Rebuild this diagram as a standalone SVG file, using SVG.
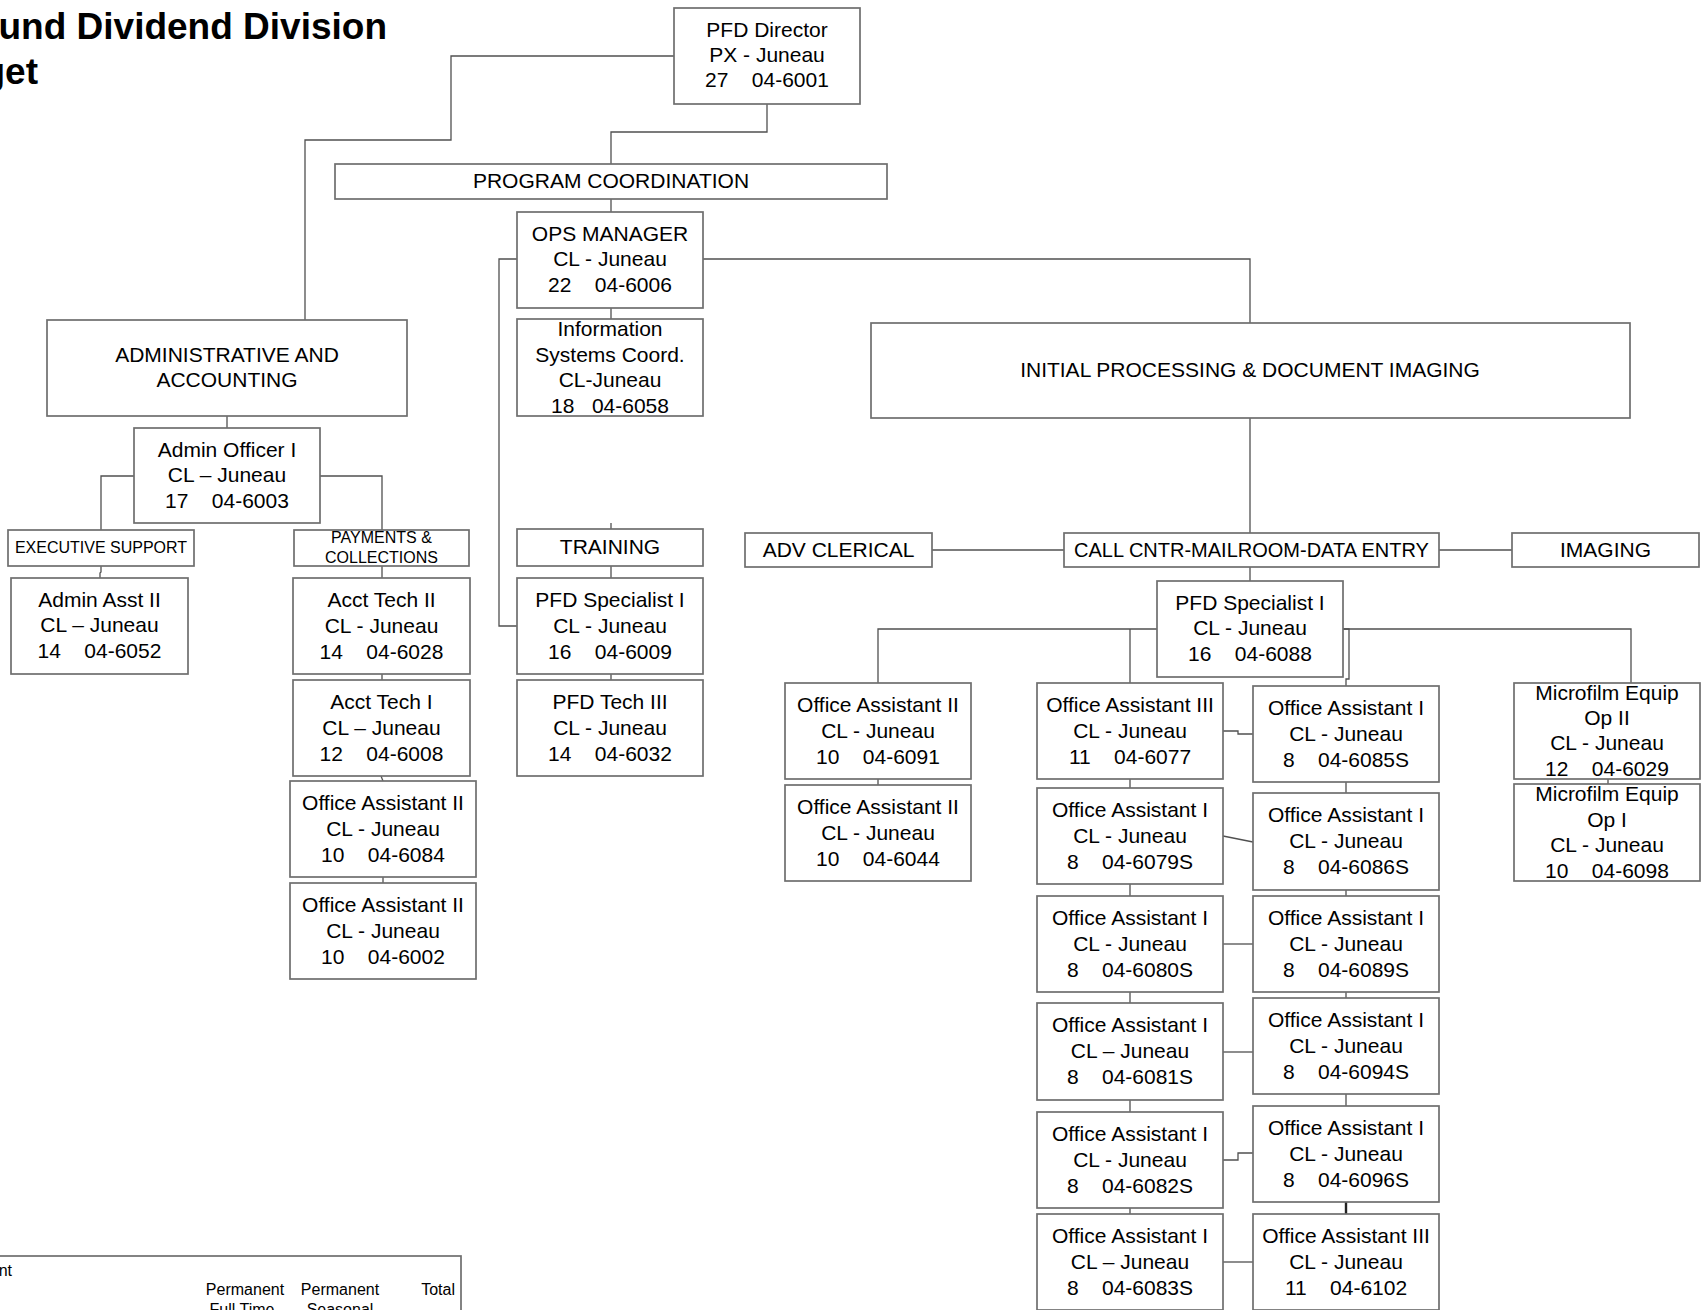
<svg xmlns="http://www.w3.org/2000/svg" width="1704" height="1310" viewBox="0 0 1704 1310">
<style>
.box{fill:#fff;stroke:#6e6e6e;stroke-width:1.7}
.t{font-family:"Liberation Sans",Arial,sans-serif;font-size:21px;text-anchor:middle;fill:#000;white-space:pre}
.s{font-size:16px}
.title{font-family:"Liberation Sans",Arial,sans-serif;font-size:37px;font-weight:bold;text-anchor:end;fill:#000}
.c{fill:none;stroke:#505050;stroke-width:1.3}
</style>
<rect width="1704" height="1310" fill="#fff"/>
<text class="title" x="387" y="39">und Dividend Division</text>
<text class="title" x="38" y="84">get</text>

<g id="connectors">
<path class="c" d="M674,56 H451 V140 H305 V320"/>
<path class="c" d="M767,104 V132 H611 V164"/>
<path class="c" d="M611,199 V212"/>
<path class="c" d="M611,307 V319"/>
<path class="c" d="M517,259 H499 V626 H517"/>
<path class="c" d="M611,523 V529"/>
<path class="c" d="M611,566 V578"/>
<path class="c" d="M611,674 V680"/>
<path class="c" d="M703,259 H1250 V323"/>
<path class="c" d="M1250,418 V533"/>
<path class="c" d="M932,550 H1064"/>
<path class="c" d="M1439,550 H1512"/>
<path class="c" d="M1250,567 V581"/>
<path class="c" d="M1157,629 H878 V683"/>
<path class="c" d="M1130,629 V683"/>
<path class="c" d="M1343,629 H1631 V683"/>
<path class="c" d="M1343,629 H1349 V679 H1346 V686"/>
<path class="c" d="M878,779 V785"/>
<path class="c" d="M1130,779 V788 M1130,884 V896 M1130,992 V1003 M1130,1100 V1112 M1130,1208 V1214"/>
<path class="c" d="M1346,782 V793 M1346,890 V896 M1346,992 V998 M1346,1094 V1106"/>
<path class="c" d="M1346,1202 V1226" style="stroke-width:2.4;stroke:#222"/>
<path class="c" d="M1223,731 H1238 V734 H1253"/>
<path class="c" d="M1223,836 L1253,842"/>
<path class="c" d="M1223,944 H1253"/>
<path class="c" d="M1223,1052 H1253"/>
<path class="c" d="M1223,1160 H1238 V1153 H1253"/>
<path class="c" d="M1223,1262 H1253"/>
<path class="c" d="M1608,779 V784"/>
<path class="c" d="M227,416 V428"/>
<path class="c" d="M134,476 H101 V530"/>
<path class="c" d="M320,476 H382 V530"/>
<path class="c" d="M101,566 V572 L100,573 V578"/>
<path class="c" d="M382,566 V578"/>
<path class="c" d="M382,674 V680"/>
<path class="c" d="M381,776 L383,781"/>
<path class="c" d="M383,877 V883"/>
</g>

<g id="director"><rect class="box" x="674" y="8" width="186" height="96"/>
<text class="t" x="767" y="37">PFD Director</text><text class="t" x="767" y="62">PX - Juneau</text><text class="t" x="767" y="87" xml:space="preserve">27    04-6001</text></g>

<g id="program"><rect class="box" x="335" y="164" width="552" height="35"/>
<text class="t" x="611" y="188">PROGRAM COORDINATION</text></g>

<g id="ops"><rect class="box" x="517" y="212" width="186" height="96"/>
<text class="t" x="610" y="241">OPS MANAGER</text><text class="t" x="610" y="266">CL - Juneau</text><text class="t" x="610" y="292" xml:space="preserve">22    04-6006</text></g>

<g id="info"><rect class="box" x="517" y="319" width="186" height="97"/>
<text class="t" x="610" y="336">Information</text><text class="t" x="610" y="362">Systems Coord.</text><text class="t" x="610" y="387">CL-Juneau</text><text class="t" x="610" y="413" xml:space="preserve">18   04-6058</text></g>

<g id="training"><rect class="box" x="517" y="529" width="186" height="37"/>
<text class="t" x="610" y="554">TRAINING</text></g>

<g id="spec-training"><rect class="box" x="517" y="578" width="186" height="96"/>
<text class="t" x="610" y="607">PFD Specialist I</text><text class="t" x="610" y="633">CL - Juneau</text><text class="t" x="610" y="659" xml:space="preserve">16    04-6009</text></g>

<g id="tech3"><rect class="box" x="517" y="680" width="186" height="96"/>
<text class="t" x="610" y="709">PFD Tech III</text><text class="t" x="610" y="735">CL - Juneau</text><text class="t" x="610" y="761" xml:space="preserve">14    04-6032</text></g>

<g id="admin-acct"><rect class="box" x="47" y="320" width="360" height="96"/>
<text class="t" x="227" y="362">ADMINISTRATIVE AND</text><text class="t" x="227" y="387">ACCOUNTING</text></g>

<g id="admin-officer"><rect class="box" x="134" y="428" width="186" height="95"/>
<text class="t" x="227" y="457">Admin Officer I</text><text class="t" x="227" y="482">CL – Juneau</text><text class="t" x="227" y="508" xml:space="preserve">17    04-6003</text></g>

<g id="exec-support"><rect class="box" x="8" y="530" width="186" height="36"/>
<text class="t s" x="101" y="553">EXECUTIVE SUPPORT</text></g>

<g id="admin-asst"><rect class="box" x="11" y="578" width="177" height="96"/>
<text class="t" x="99.5" y="607">Admin Asst II</text><text class="t" x="99.5" y="632">CL – Juneau</text><text class="t" x="99.5" y="658" xml:space="preserve">14    04-6052</text></g>

<g id="payments"><rect class="box" x="294" y="530" width="175" height="36"/>
<text class="t s" x="381.5" y="543">PAYMENTS &amp;</text><text class="t s" x="381.5" y="563">COLLECTIONS</text></g>

<g id="acct-tech2"><rect class="box" x="293" y="578" width="177" height="96"/>
<text class="t" x="381.5" y="607">Acct Tech II</text><text class="t" x="381.5" y="633">CL - Juneau</text><text class="t" x="381.5" y="659" xml:space="preserve">14    04-6028</text></g>

<g id="acct-tech1"><rect class="box" x="293" y="680" width="177" height="96"/>
<text class="t" x="381.5" y="709">Acct Tech I</text><text class="t" x="381.5" y="735">CL – Juneau</text><text class="t" x="381.5" y="761" xml:space="preserve">12    04-6008</text></g>

<g id="oa2-6084"><rect class="box" x="290" y="781" width="186" height="96"/>
<text class="t" x="383" y="810">Office Assistant II</text><text class="t" x="383" y="836">CL - Juneau</text><text class="t" x="383" y="862" xml:space="preserve">10    04-6084</text></g>

<g id="oa2-6002"><rect class="box" x="290" y="883" width="186" height="96"/>
<text class="t" x="383" y="912">Office Assistant II</text><text class="t" x="383" y="938">CL - Juneau</text><text class="t" x="383" y="964" xml:space="preserve">10    04-6002</text></g>

<g id="initial"><rect class="box" x="871" y="323" width="759" height="95"/>
<text class="t" x="1250" y="377">INITIAL PROCESSING &amp; DOCUMENT IMAGING</text></g>

<g id="adv-clerical"><rect class="box" x="745" y="533" width="187" height="34"/>
<text class="t" x="838.5" y="557">ADV CLERICAL</text></g>

<g id="call-cntr"><rect class="box" x="1064" y="533" width="375" height="34"/>
<text class="t" x="1251.5" y="557" style="font-size:20px">CALL CNTR-MAILROOM-DATA ENTRY</text></g>

<g id="imaging"><rect class="box" x="1512" y="533" width="187" height="34"/>
<text class="t" x="1605.5" y="557">IMAGING</text></g>

<g id="spec-mail"><rect class="box" x="1157" y="581" width="186" height="96"/>
<text class="t" x="1250" y="610">PFD Specialist I</text><text class="t" x="1250" y="635">CL - Juneau</text><text class="t" x="1250" y="661" xml:space="preserve">16    04-6088</text></g>

<g id="oa2-6091"><rect class="box" x="785" y="683" width="186" height="96"/>
<text class="t" x="878" y="712">Office Assistant II</text><text class="t" x="878" y="738">CL - Juneau</text><text class="t" x="878" y="764" xml:space="preserve">10    04-6091</text></g>

<g id="oa2-6044"><rect class="box" x="785" y="785" width="186" height="96"/>
<text class="t" x="878" y="814">Office Assistant II</text><text class="t" x="878" y="840">CL - Juneau</text><text class="t" x="878" y="866" xml:space="preserve">10    04-6044</text></g>

<g id="oa3-6077"><rect class="box" x="1037" y="683" width="186" height="96"/>
<text class="t" x="1130" y="712">Office Assistant III</text><text class="t" x="1130" y="738">CL - Juneau</text><text class="t" x="1130" y="764" xml:space="preserve">11    04-6077</text></g>

<g id="oa1-6079S"><rect class="box" x="1037" y="788" width="186" height="96"/>
<text class="t" x="1130" y="817">Office Assistant I</text><text class="t" x="1130" y="843">CL - Juneau</text><text class="t" x="1130" y="869" xml:space="preserve">8    04-6079S</text></g>

<g id="oa1-6080S"><rect class="box" x="1037" y="896" width="186" height="96"/>
<text class="t" x="1130" y="925">Office Assistant I</text><text class="t" x="1130" y="951">CL - Juneau</text><text class="t" x="1130" y="977" xml:space="preserve">8    04-6080S</text></g>

<g id="oa1-6081S"><rect class="box" x="1037" y="1003" width="186" height="97"/>
<text class="t" x="1130" y="1032">Office Assistant I</text><text class="t" x="1130" y="1058">CL – Juneau</text><text class="t" x="1130" y="1084" xml:space="preserve">8    04-6081S</text></g>

<g id="oa1-6082S"><rect class="box" x="1037" y="1112" width="186" height="96"/>
<text class="t" x="1130" y="1141">Office Assistant I</text><text class="t" x="1130" y="1167">CL - Juneau</text><text class="t" x="1130" y="1193" xml:space="preserve">8    04-6082S</text></g>

<g id="oa1-6083S"><rect class="box" x="1037" y="1214" width="186" height="96"/>
<text class="t" x="1130" y="1243">Office Assistant I</text><text class="t" x="1130" y="1269">CL – Juneau</text><text class="t" x="1130" y="1295" xml:space="preserve">8    04-6083S</text></g>

<g id="oa1-6085S"><rect class="box" x="1253" y="686" width="186" height="96"/>
<text class="t" x="1346" y="715">Office Assistant I</text><text class="t" x="1346" y="741">CL - Juneau</text><text class="t" x="1346" y="767" xml:space="preserve">8    04-6085S</text></g>

<g id="oa1-6086S"><rect class="box" x="1253" y="793" width="186" height="97"/>
<text class="t" x="1346" y="822">Office Assistant I</text><text class="t" x="1346" y="848">CL - Juneau</text><text class="t" x="1346" y="874" xml:space="preserve">8    04-6086S</text></g>

<g id="oa1-6089S"><rect class="box" x="1253" y="896" width="186" height="96"/>
<text class="t" x="1346" y="925">Office Assistant I</text><text class="t" x="1346" y="951">CL - Juneau</text><text class="t" x="1346" y="977" xml:space="preserve">8    04-6089S</text></g>

<g id="oa1-6094S"><rect class="box" x="1253" y="998" width="186" height="96"/>
<text class="t" x="1346" y="1027">Office Assistant I</text><text class="t" x="1346" y="1053">CL - Juneau</text><text class="t" x="1346" y="1079" xml:space="preserve">8    04-6094S</text></g>

<g id="oa1-6096S"><rect class="box" x="1253" y="1106" width="186" height="96"/>
<text class="t" x="1346" y="1135">Office Assistant I</text><text class="t" x="1346" y="1161">CL - Juneau</text><text class="t" x="1346" y="1187" xml:space="preserve">8    04-6096S</text></g>

<g id="oa3-6102"><rect class="box" x="1253" y="1214" width="186" height="96"/>
<text class="t" x="1346" y="1243">Office Assistant III</text><text class="t" x="1346" y="1269">CL - Juneau</text><text class="t" x="1346" y="1295" xml:space="preserve">11    04-6102</text></g>

<g id="microfilm2"><rect class="box" x="1514" y="683" width="186" height="96"/>
<text class="t" x="1607" y="700">Microfilm Equip</text><text class="t" x="1607" y="725">Op II</text><text class="t" x="1607" y="750">CL - Juneau</text><text class="t" x="1607" y="776" xml:space="preserve">12    04-6029</text></g>

<g id="microfilm1"><rect class="box" x="1514" y="784" width="186" height="97"/>
<text class="t" x="1607" y="801">Microfilm Equip</text><text class="t" x="1607" y="827">Op I</text><text class="t" x="1607" y="852">CL - Juneau</text><text class="t" x="1607" y="878" xml:space="preserve">10    04-6098</text></g>

<g id="legend"><rect class="box" x="-4" y="1256" width="465" height="80"/>
<text class="t s" x="12" y="1276" style="text-anchor:end">nt</text>
<text class="t s" x="245" y="1295">Permanent</text>
<text class="t s" x="340" y="1295">Permanent</text>
<text class="t s" x="455" y="1295" style="text-anchor:end">Total</text>
<text class="t s" x="242" y="1315">Full Time</text>
<text class="t s" x="340" y="1315">Seasonal</text></g>
</svg>
